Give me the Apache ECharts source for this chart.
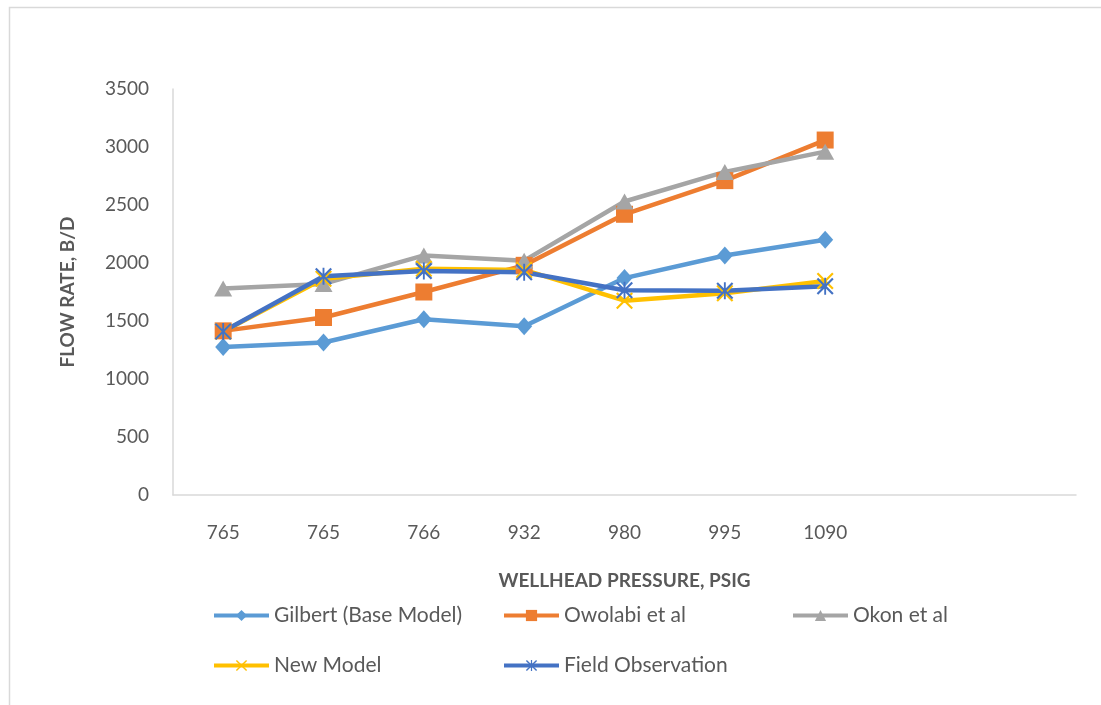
<!DOCTYPE html>
<html>
<head>
<meta charset="utf-8">
<script src="https://cdn.jsdelivr.net/npm/echarts@6/dist/echarts.min.js"></script>
<style>
  html, body { margin: 0; padding: 0; background: #fff; }
  #chart { width: 1101px; height: 705px; }
</style>
</head>
<body>
<div id="chart"></div>
<script>
// Wellhead pressure categories (psig); the last two slots are left blank
const pressures = ['765', '765', '766', '932', '980', '995', '1090', '', ''];

// Flow rate, B/D, per model
const gilbert   = [1275, 1315, 1515, 1455, 1870, 2065, 2200];
const owolabi   = [1415, 1530, 1750, 1980, 2420, 2710, 3060];
const okon      = [1780, 1820, 2065, 2020, 2530, 2785, 2960];
const newModel  = [1410, 1865, 1950, 1940, 1675, 1740, 1845];
const fieldObs  = [1410, 1885, 1930, 1920, 1765, 1760, 1800];

const yTicks = { min: 0, max: 3500, step: 500 };

const seriesNames = ['Gilbert (Base Model)', 'Owolabi et al', 'Okon et al', 'New Model', 'Field Observation'];

// Marker shapes: thin cross and six-arm asterisk as filled outlines
const crossPath = 'path://M0,0.9L0.9,0L5,4.1L9.1,0L10,0.9L5.9,5L10,9.1L9.1,10L5,5.9L0.9,10L0,9.1L4.1,5Z';
const starPath = 'path://M0,0.9L0.9,0L5,4.1L9.1,0L10,0.9L5.9,5L10,9.1L9.1,10L5,5.9L0.9,10L0,9.1L4.1,5Z' +
                 'M4.45,0L5.55,0L5.55,10L4.45,10Z';

const textColor = '#595959';
const fontFamily = 'Lato, "Open Sans", sans-serif';

function lineSeries(name, data, color, symbol, symbolSize) {
  return {
    name: name,
    type: 'line',
    data: data,
    symbol: symbol,
    symbolSize: symbolSize,
    showAllSymbol: true,
    lineStyle: { color: color, width: 4.5 },
    itemStyle: { color: color },
    emphasis: { disabled: true },
    animation: false
  };
}

const chart = echarts.init(document.getElementById('chart'), null, { renderer: 'canvas' });

const legendTextStyle = { color: textColor, fontSize: 21, fontFamily: fontFamily };
function legendAt(name, left, top) {
  return {
    data: [name],
    left: left,
    top: top,
    padding: 0,
    itemWidth: 55,
    itemHeight: 14,
    itemGap: 0,
    lineStyle: { width: 4 },
    textStyle: legendTextStyle,
    selectedMode: false
  };
}

chart.setOption({
  backgroundColor: '#ffffff',
  animation: false,
  graphic: [{
    type: 'rect',
    shape: { x: 9.5, y: 7.5, width: 1120, height: 720 },
    style: { fill: 'none', stroke: '#d9d9d9', lineWidth: 1.5 },
    silent: true
  }],
  grid: { left: 173, right: 25, top: 89, bottom: 210, containLabel: false },
  legend: [
    legendAt(seriesNames[0], 212, 605),
    legendAt(seriesNames[1], 502, 605),
    legendAt(seriesNames[2], 791, 605),
    legendAt(seriesNames[3], 212, 655),
    legendAt(seriesNames[4], 502, 655)
  ],
  xAxis: {
    type: 'category',
    data: pressures,
    boundaryGap: true,
    axisLine: { lineStyle: { color: '#d9d9d9', width: 1.5 } },
    axisTick: { show: false },
    axisLabel: { color: textColor, fontSize: 19, fontFamily: fontFamily, margin: 28, interval: 0 },
    splitLine: { show: false },
    name: 'WELLHEAD PRESSURE, PSIG',
    nameLocation: 'middle',
    nameGap: 76,
    nameTextStyle: { color: textColor, fontSize: 19, fontWeight: 'bold', fontFamily: fontFamily }
  },
  yAxis: {
    type: 'value',
    min: yTicks.min,
    max: yTicks.max,
    interval: yTicks.step,
    axisLine: { show: true, lineStyle: { color: '#d9d9d9', width: 1.5 } },
    axisTick: { show: false },
    axisLabel: { color: textColor, fontSize: 19, fontFamily: fontFamily, margin: 24,
                 formatter: function (v) { return String(v); } },
    splitLine: { show: false },
    name: 'FLOW RATE, B/D',
    nameLocation: 'middle',
    nameGap: 96,
    nameRotate: 90,
    nameTextStyle: { color: textColor, fontSize: 19, fontWeight: 'bold', fontFamily: fontFamily }
  },
  series: [
    lineSeries(seriesNames[0], gilbert, '#5B9BD5', 'diamond', [16, 18]),
    lineSeries(seriesNames[1], owolabi, '#ED7D31', 'rect', 17),
    lineSeries(seriesNames[2], okon, '#A5A5A5', 'triangle', [18, 16]),
    lineSeries(seriesNames[3], newModel, '#FFC000', crossPath, 17),
    lineSeries(seriesNames[4], fieldObs, '#4472C4', starPath, 17)
  ]
});
</script>
</body>
</html>
